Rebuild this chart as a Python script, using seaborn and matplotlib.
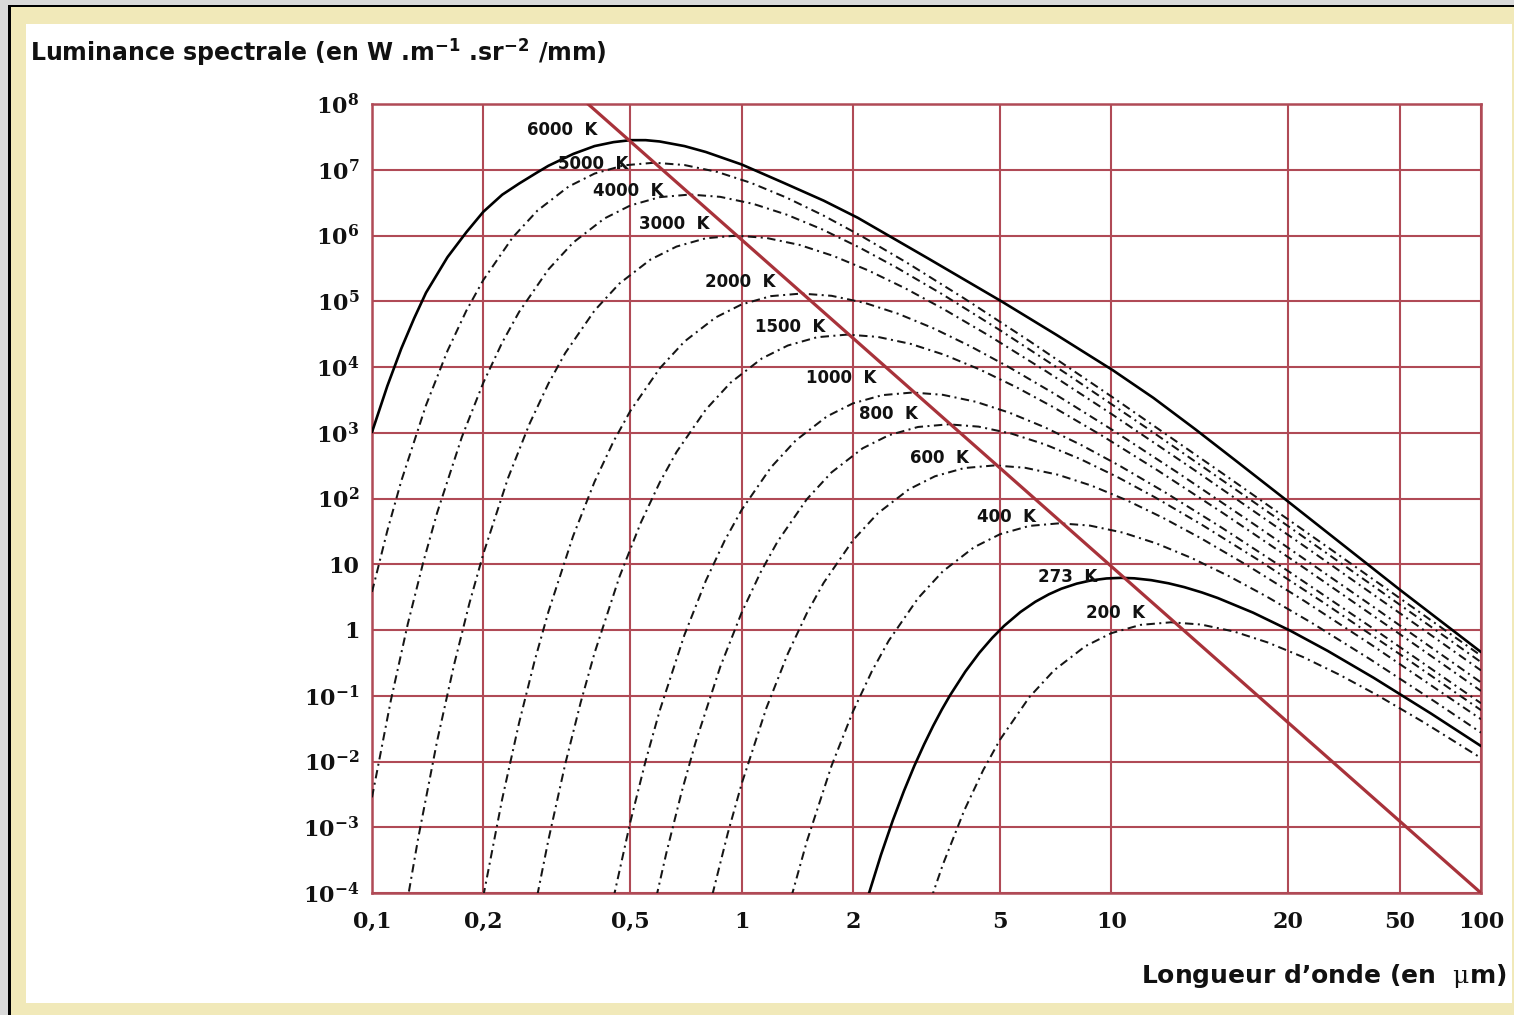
import numpy as np
import pandas as pd
import matplotlib
matplotlib.use("Agg")
import matplotlib.pyplot as plt
from matplotlib.patches import Rectangle
from matplotlib.ticker import NullLocator
import seaborn as sns

# ---------------- data (wavelength in µm, log10 of spectral radiance) ----------------
lam_6000 = [0.1, 0.11, 0.12, 0.13, 0.14, 0.16, 0.18, 0.2, 0.225, 0.25, 0.28, 0.3, 0.35, 0.4, 0.45, 0.5,
            0.55, 0.6, 0.7, 0.8, 1.0, 1.3, 1.667, 2.06, 3.22, 5.04, 7.1, 10.1, 13.0, 16.9, 22.0, 29.2,
            60.4, 100.0]
logL_6000 = [3.01, 3.71, 4.28, 4.74, 5.13, 5.67, 6.05, 6.36, 6.62, 6.79, 6.96, 7.06, 7.24, 7.36, 7.42, 7.45,
             7.45, 7.43, 7.36, 7.27, 7.08, 6.80, 6.53, 6.27, 5.64, 5.00, 4.49, 3.95, 3.53, 3.05, 2.55, 2.01,
             0.61, -0.335]

lam_5000 = [0.1, 0.11, 0.12, 0.14, 0.16, 0.18, 0.2, 0.24, 0.28, 0.34, 0.4, 0.48, 0.58, 0.7, 0.86, 1.06,
            1.32, 1.66, 2.1, 2.8, 4.0, 6.0, 10.0, 20.0, 40.0, 100.0]
logL_5000 = [0.579, 1.508, 2.266, 3.419, 4.245, 4.857, 5.322, 5.968, 6.377, 6.743, 6.942, 7.067, 7.107,
             7.072, 6.966, 6.800, 6.578, 6.307, 5.997, 5.586, 5.043, 4.396, 3.553, 2.381, 1.193, -0.390]

lam_4000 = [0.1, 0.1125, 0.125, 0.1375, 0.15, 0.175, 0.2, 0.225, 0.25, 0.3, 0.35, 0.425, 0.5, 0.6,
            0.7245, 0.875, 1.075, 1.325, 1.65, 2.075, 2.625, 3.5, 5.0, 7.5, 12.5, 25.0, 50.0, 100.0]
logL_4000 = [-2.545, -1.066, 0.094, 1.023, 1.781, 2.934, 3.760, 4.372, 4.838, 5.483, 5.892, 6.258, 6.457,
             6.583, 6.623, 6.588, 6.481, 6.316, 6.094, 5.822, 5.512, 5.102, 4.559, 3.911, 3.068, 1.897,
             0.708, -0.488]

lam_3000 = [0.1233, 0.1333, 0.15, 0.1667, 0.1833, 0.2, 0.2333, 0.2667, 0.3, 0.3333, 0.4, 0.4667, 0.5667,
            0.6667, 0.8, 0.966, 1.1667, 1.4333, 1.7667, 2.2, 2.7667, 3.5, 4.6667, 6.6667, 10.0, 16.667,
            33.333, 66.667, 100.0]
logL_3000 = [-4.267, -3.170, -1.690, -0.530, 0.399, 1.157, 2.310, 3.135, 3.747, 4.213, 4.859, 5.268, 5.634,
             5.832, 5.958, 5.998, 5.963, 5.857, 5.691, 5.469, 5.198, 4.888, 4.477, 3.934, 3.287, 2.444,
             1.272, 0.084, -0.615]

lam_2000 = [0.2, 0.225, 0.25, 0.275, 0.3, 0.35, 0.4, 0.45, 0.5, 0.6, 0.7, 0.85, 1.0, 1.2, 1.449, 1.75,
            2.15, 2.65, 3.3, 4.15, 5.25, 7.0, 10.0, 15.0, 25.0, 50.0, 100.0]
logL_2000 = [-4.051, -2.571, -1.411, -0.482, 0.276, 1.429, 2.255, 2.867, 3.333, 3.978, 4.387, 4.753, 4.952,
             5.078, 5.117, 5.083, 4.976, 4.810, 4.589, 4.317, 4.007, 3.596, 3.053, 2.406, 1.563, 0.391,
             -0.797]

lam_1500 = [0.28, 0.3, 0.3333, 0.3667, 0.4, 0.4667, 0.5333, 0.6, 0.6667, 0.8, 0.9333, 1.1333, 1.3333, 1.6,
            1.932, 2.3333, 2.8667, 3.5333, 4.4, 5.5333, 7.0, 9.3333, 13.333, 20.0, 33.333, 66.667, 100.0]
logL_1500 = [-4.037, -3.195, -2.036, -1.106, -0.349, 0.804, 1.630, 2.242, 2.708, 3.353, 3.762, 4.129, 4.327,
             4.453, 4.493, 4.458, 4.351, 4.186, 3.964, 3.693, 3.383, 2.972, 2.429, 1.782, 0.939, -0.233,
             -0.927]

lam_1000 = [0.45, 0.5, 0.55, 0.6, 0.7, 0.8, 0.9, 1.0, 1.2, 1.4, 1.7, 2.0, 2.4, 2.898, 3.5, 4.3, 5.3, 6.6,
            8.3, 10.5, 14.0, 20.0, 30.0, 50.0, 100.0]
logL_1000 = [-4.076, -2.916, -1.987, -1.229, -0.076, 0.750, 1.362, 1.827, 2.473, 2.882, 3.248, 3.447, 3.572,
             3.612, 3.577, 3.471, 3.305, 3.084, 2.812, 2.502, 2.091, 1.548, 0.901, 0.058, -1.114]

lam_800 = [0.5875, 0.625, 0.6875, 0.75, 0.875, 1.0, 1.125, 1.25, 1.5, 1.75, 2.125, 2.5, 3.0, 3.6225, 4.375,
           5.375, 6.625, 8.25, 10.375, 13.125, 17.5, 25.0, 37.5, 62.5, 100.0]
logL_800 = [-4.064, -3.401, -2.471, -1.714, -0.561, 0.265, 0.877, 1.343, 1.988, 2.397, 2.764, 2.962, 3.088,
            3.128, 3.093, 2.986, 2.821, 2.599, 2.328, 2.018, 1.607, 1.064, 0.417, -0.427, -1.219]

lam_600 = [0.8333, 0.9167, 1.0, 1.1667, 1.3333, 1.5, 1.6667, 2.0, 2.3333, 2.8333, 3.3333, 4.0, 4.83, 5.8333,
           7.1667, 8.8333, 11.0, 13.833, 17.5, 23.333, 33.333, 50.0, 100.0]
logL_600 = [-4.025, -3.096, -2.338, -1.185, -0.359, 0.253, 0.718, 1.364, 1.773, 2.139, 2.338, 2.463, 2.503,
            2.468, 2.362, 2.196, 1.974, 1.703, 1.393, 0.982, 0.439, -0.208, -1.357]

lam_400 = [1.3625, 1.5, 1.75, 2.0, 2.25, 2.5, 3.0, 3.5, 4.25, 5.0, 6.0, 7.245, 8.75, 10.75, 13.25, 16.5,
           20.75, 26.25, 35.0, 50.0, 75.0, 100.0]
logL_400 = [-4.061, -3.219, -2.066, -1.240, -0.628, -0.162, 0.483, 0.892, 1.258, 1.457, 1.583, 1.623, 1.588,
            1.481, 1.316, 1.094, 0.822, 0.512, 0.102, -0.441, -1.089, -1.561]

lam_273 = [2.198, 2.381, 2.564, 2.747, 2.930, 3.114, 3.297, 3.480, 3.663, 4.029, 4.396, 4.762, 5.128, 5.678,
           6.227, 6.777, 7.326, 8.059, 8.791, 9.707, 10.615, 11.539, 12.821, 14.286, 15.751, 17.582,
           19.414, 24.176, 30.403, 38.462, 51.282, 73.26, 100.0]
logL_273 = [-4.048, -3.421, -2.895, -2.450, -2.069, -1.742, -1.457, -1.209, -0.992, -0.631, -0.346, -0.120,
            0.063, 0.274, 0.429, 0.543, 0.628, 0.705, 0.753, 0.784, 0.793, 0.786, 0.758, 0.710, 0.652, 0.571,
            0.486, 0.264, -0.007, -0.317, -0.728, -1.271, -1.765]

lam_200 = [3.25, 3.5, 4.0, 4.5, 5.0, 6.0, 7.0, 8.5, 10.0, 12.0, 14.49, 17.5, 21.5, 26.5, 33.0, 41.5, 52.5,
           70.0, 100.0]
logL_200 = [-4.097, -3.571, -2.745, -2.133, -1.667, -1.022, -0.613, -0.247, -0.048, 0.078, 0.117, 0.083,
            -0.024, -0.190, -0.411, -0.683, -0.993, -1.404, -1.947]

# Wien displacement line (locus of maxima)
wien_lam = [0.384, 100.0]
wien_logL = [8.0, -4.0]

temperatures = [6000, 5000, 4000, 3000, 2000, 1500, 1000, 800, 600, 400, 273, 200]
curve_lams = [lam_6000, lam_5000, lam_4000, lam_3000, lam_2000, lam_1500, lam_1000, lam_800, lam_600,
              lam_400, lam_273, lam_200]
curve_logLs = [logL_6000, logL_5000, logL_4000, logL_3000, logL_2000, logL_1500, logL_1000, logL_800,
               logL_600, logL_400, logL_273, logL_200]
solid_temps = [6000, 273]

# temperature label anchor points (µm, log10 L)
label_lam = [0.3274, 0.3957, 0.494, 0.6551, 0.99, 1.352, 1.862, 2.489, 3.427, 5.206, 7.594, 10.25]
label_logL = [7.604, 7.087, 6.677, 6.175, 5.293, 4.608, 3.833, 3.285, 2.616, 1.719, 0.806, 0.259]

# axis ticks (the original grid draws "20" and "50" at these positions)
x_tick_pos = [0.1, 0.2, 0.5, 1, 2, 5, 10, 30.1, 60.4, 100]
x_tick_labels = ["0,1", "0,2", "0,5", "1", "2", "5", "10", "20", "50", "100"]
y_tick_exp = [-4, -3, -2, -1, 0, 1, 2, 3, 4, 5, 6, 7, 8]
y_tick_labels = [r"$\mathrm{10^{-4}}$", r"$\mathrm{10^{-3}}$", r"$\mathrm{10^{-2}}$", r"$\mathrm{10^{-1}}$",
                 "1", "10", r"$\mathrm{10^{2}}$", r"$\mathrm{10^{3}}$", r"$\mathrm{10^{4}}$",
                 r"$\mathrm{10^{5}}$", r"$\mathrm{10^{6}}$", r"$\mathrm{10^{7}}$", r"$\mathrm{10^{8}}$"]

title_text = r"Luminance spectrale (en W .m$^{\mathsf{-1}}$ .sr$^{\mathsf{-2}}$ /mm)"
xlabel_text = r"Longueur d’onde (en  $\mu$m)"

# ---------------- style ----------------
sns.set_theme(style="white")
plt.rcParams["font.family"] = ["DejaVu Sans"]
plt.rcParams["mathtext.fontset"] = "custom"
plt.rcParams["mathtext.rm"] = "DejaVu Serif:bold"
plt.rcParams["mathtext.bf"] = "DejaVu Serif:bold"
plt.rcParams["mathtext.sf"] = "DejaVu Sans:bold"
plt.rcParams["mathtext.it"] = "DejaVu Serif"

GRID = "#B04A56"
WIEN = "#A8323A"
W, H = 1514, 1015

fig = plt.figure(figsize=(W / 100, H / 100), dpi=100, facecolor="#D9D9D9")


def px_rect(x0, y0, x1, y1, color, z):
    fig.patches.append(Rectangle((x0 / W, 1 - y1 / H), (x1 - x0) / W, (y1 - y0) / H,
                                 transform=fig.transFigure, figure=fig, facecolor=color,
                                 edgecolor="none", zorder=z))


px_rect(8, 5, W, H, "black", -30)
px_rect(11, 7, W, H, "#F1E9B9", -20)
px_rect(26, 24, 1512, 1003, "white", -10)

ax = fig.add_axes([372 / W, 1 - 893 / H, (1481 - 372) / W, (893 - 104) / H])
ax.set_facecolor("white")
ax.set_xscale("log")
ax.set_yscale("log")

for T, lam, logL in zip(temperatures, curve_lams, curve_logLs):
    df = pd.DataFrame({"lam": lam, "L": np.power(10.0, logL)})
    if T in solid_temps:
        sns.lineplot(data=df, x="lam", y="L", ax=ax, color="black", linewidth=1.9,
                     estimator=None, sort=False, legend=False, zorder=3)
    else:
        sns.lineplot(data=df, x="lam", y="L", ax=ax, color="#151515", linewidth=1.45,
                     linestyle=(0, (4.2, 2.2, 1.0, 2.2)), estimator=None, sort=False,
                     legend=False, zorder=3)

wdf = pd.DataFrame({"lam": wien_lam, "L": np.power(10.0, wien_logL)})
sns.lineplot(data=wdf, x="lam", y="L", ax=ax, color=WIEN, linewidth=2.3, estimator=None,
             sort=False, legend=False, zorder=4)

for T, lx, ly in zip(temperatures, label_lam, label_logL):
    ax.text(lx, 10 ** ly, f"{T}  K", ha="center", va="center", fontsize=12,
            fontweight="bold", color="#111111", zorder=6)

ax.set_xlim(0.1, 100)
ax.set_ylim(1e-4, 1e8)
ax.set_xticks(x_tick_pos)
ax.set_xticklabels(x_tick_labels)
ax.set_yticks([10.0 ** e for e in y_tick_exp])
ax.set_yticklabels(y_tick_labels)
ax.xaxis.set_minor_locator(NullLocator())
ax.yaxis.set_minor_locator(NullLocator())
ax.tick_params(axis="both", length=0, labelsize=16, colors="#111111")
ax.tick_params(axis="y", pad=9)
ax.tick_params(axis="x", pad=13)
for lbl in ax.get_xticklabels() + ax.get_yticklabels():
    lbl.set_fontfamily("DejaVu Serif")
    lbl.set_fontweight("bold")
ax.set_xlabel("")
ax.set_ylabel("")
ax.grid(True, which="major", color=GRID, linewidth=1.5)
ax.set_axisbelow(True)
for sp in ax.spines.values():
    sp.set_color(GRID)
    sp.set_linewidth(1.8)
    sp.set_visible(True)

fig.text(30 / W, 1 - 52 / H, title_text, ha="left", va="center", fontsize=17,
         fontweight="bold", color="#111111")
fig.text(1506 / W, 1 - 976 / H, xlabel_text, ha="right", va="center", fontsize=18,
         fontweight="bold", color="#111111")

fig.savefig("out.png", dpi=100, facecolor=fig.get_facecolor())
